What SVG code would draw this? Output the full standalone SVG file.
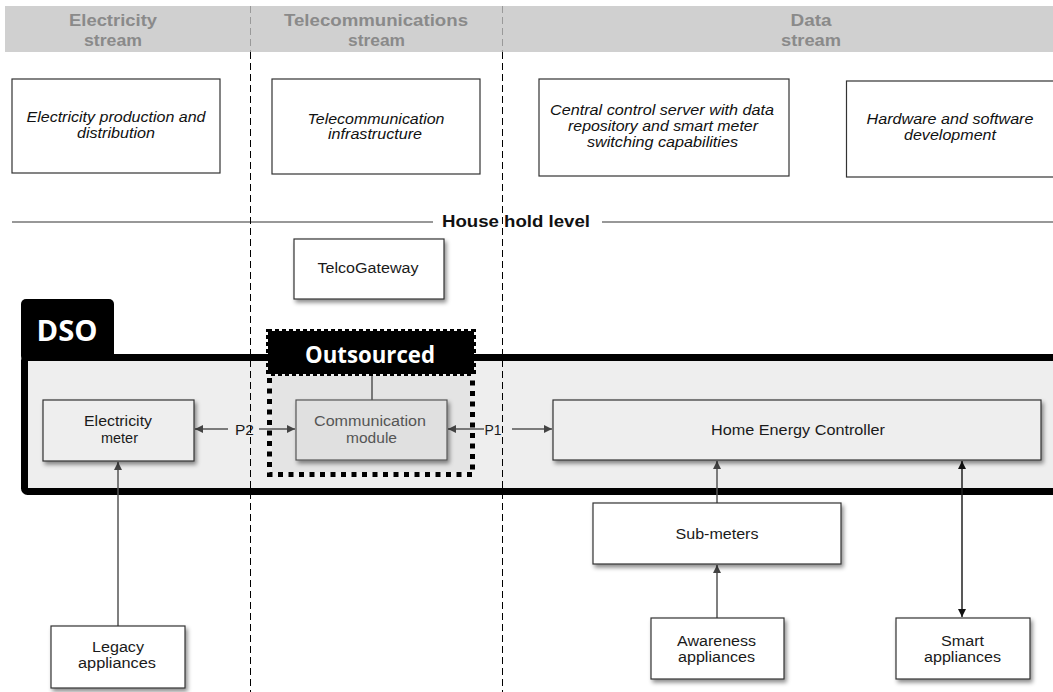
<svg xmlns="http://www.w3.org/2000/svg" width="1053" height="692" viewBox="0 0 1053 692">
  <defs>
    <filter id="shadow" x="-10%" y="-20%" width="125%" height="160%">
      <feDropShadow dx="2" dy="3" stdDeviation="2" flood-color="#000" flood-opacity="0.45"/>
    </filter>
    <marker id="arr" viewBox="0 0 10 10" refX="10" refY="5" markerWidth="8" markerHeight="8" markerUnits="userSpaceOnUse" orient="auto-start-reverse">
      <path d="M0,0 L10,5 L0,10 z" fill="#444"/>
    </marker>
    <marker id="arrDark" viewBox="0 0 10 10" refX="10" refY="5" markerWidth="8" markerHeight="8" markerUnits="userSpaceOnUse" orient="auto-start-reverse">
      <path d="M0,0 L10,5 L0,10 z" fill="#111"/>
    </marker>
  </defs>
  <style>
    .band { fill: #d0d0d0; }
    .head { font-family: "Liberation Sans", Arial, sans-serif; font-weight: bold; font-size: 16px; fill: #8a8a8a; text-anchor: middle; }
    .lane { stroke: #000; stroke-width: 1; stroke-dasharray: 7 4; fill: none; }
    .lane-light { stroke: #999; stroke-width: 1; stroke-dasharray: 7 4; fill: none; }
    .top { fill: #fff; stroke: #333; stroke-width: 1.2; }
    .ital { font-family: "Liberation Sans", Arial, sans-serif; font-style: italic; font-size: 14px; fill: #111; text-anchor: middle; }
    .node { fill: #fff; stroke: #333; stroke-width: 1.2; filter: url(#shadow); }
    .inner { fill: #eeeeee; stroke: #333; stroke-width: 1.2; filter: url(#shadow); }
    .comm { fill: #e0e0e0; stroke: #555; stroke-width: 1.2; filter: url(#shadow); }
    .lbl { font-family: "Liberation Sans", Arial, sans-serif; font-size: 14px; fill: #1a1a1a; text-anchor: middle; }
    .lbl-grey { font-family: "Liberation Sans", Arial, sans-serif; font-size: 14px; fill: #555; text-anchor: middle; }
    .level { font-family: "Liberation Sans", Arial, sans-serif; font-weight: bold; font-size: 16px; fill: #111; text-anchor: middle; }
    .tag { font-family: "Open Sans", "DejaVu Sans", sans-serif; font-weight: bold; fill: #fff; text-anchor: middle; }
    .wire { stroke: #555; stroke-width: 1.5; fill: none; }
    .wire-dark { stroke: #222; stroke-width: 1.5; fill: none; }
  </style>

  <rect width="1053" height="692" fill="#fff"/>

  <!-- stream header band -->
  <g id="stream-header">
    <rect class="band" x="5" y="6" width="1048" height="46"/>
    <text class="head" x="113" y="25.5" textLength="88" lengthAdjust="spacingAndGlyphs">Electricity</text>
    <text class="head" x="113" y="45.5" textLength="58" lengthAdjust="spacingAndGlyphs">stream</text>
    <text class="head" x="376" y="25.5" textLength="184" lengthAdjust="spacingAndGlyphs">Telecommunications</text>
    <text class="head" x="376.5" y="45.5" textLength="57" lengthAdjust="spacingAndGlyphs">stream</text>
    <text class="head" x="811" y="25.5" textLength="41" lengthAdjust="spacingAndGlyphs">Data</text>
    <text class="head" x="811" y="45.5" textLength="60" lengthAdjust="spacingAndGlyphs">stream</text>
  </g>

  <!-- household divider -->
  <g id="household-level">
    <line x1="12" y1="222" x2="433" y2="222" stroke="#333" stroke-width="1.2"/>
    <line x1="602" y1="222" x2="1053" y2="222" stroke="#333" stroke-width="1.2"/>
    <text class="level" x="516" y="227" textLength="148" lengthAdjust="spacingAndGlyphs">House hold level</text>
  </g>

  <!-- DSO domain frame -->
  <g id="dso">
    <rect x="21" y="299" width="93" height="62" rx="5" fill="#000"/>
    <rect x="24.5" y="357.5" width="1045" height="134" rx="3" fill="#eeeeee"/>
    <text class="tag" x="67" y="341" font-size="29" textLength="61" lengthAdjust="spacingAndGlyphs">DSO</text>
  </g>

  <!-- stream separators -->
  <g id="lanes">
    <line class="lane" x1="250.5" y1="52" x2="250.5" y2="692"/>
    <line class="lane" x1="502.5" y1="52" x2="502.5" y2="692"/>
    <line class="lane-light" x1="250.5" y1="6" x2="250.5" y2="52"/>
    <line class="lane-light" x1="502.5" y1="6" x2="502.5" y2="52"/>
  </g>

  <rect x="24.5" y="357.5" width="1045" height="134" rx="3" fill="none" stroke="#000" stroke-width="7"/>

  <!-- outsourced area -->
  <g id="outsourced">
    <rect x="272" y="376" width="198" height="96" fill="#e4e4e4"/>
    <path d="M269.5,378 V474.5 H472.5 V378" fill="none" stroke="#000" stroke-width="5" stroke-dasharray="5 5.5"/>
    <rect x="268" y="331" width="206" height="43" fill="#000" stroke="#000" stroke-width="4" stroke-dasharray="4 3"/>
    <text class="tag" x="370" y="363" font-size="23" textLength="130" lengthAdjust="spacingAndGlyphs">Outsourced</text>
  </g>

  <!-- upstream boxes -->
  <g id="electricity-production">
    <rect class="top" x="12" y="79" width="208" height="94"/>
    <text class="ital" x="116" y="122" textLength="179" lengthAdjust="spacingAndGlyphs">Electricity production and</text>
    <text class="ital" x="116" y="138" textLength="78" lengthAdjust="spacingAndGlyphs">distribution</text>
  </g>
  <g id="telecom-infrastructure">
    <rect class="top" x="272" y="79" width="208" height="95"/>
    <text class="ital" x="376" y="124" textLength="137" lengthAdjust="spacingAndGlyphs">Telecommunication</text>
    <text class="ital" x="375" y="139" textLength="94" lengthAdjust="spacingAndGlyphs">infrastructure</text>
  </g>
  <g id="central-server">
    <rect class="top" x="539" y="79" width="250" height="97"/>
    <text class="ital" x="662" y="115" textLength="224" lengthAdjust="spacingAndGlyphs">Central control server with data</text>
    <text class="ital" x="663" y="131" textLength="190" lengthAdjust="spacingAndGlyphs">repository and smart meter</text>
    <text class="ital" x="662.5" y="147" textLength="151" lengthAdjust="spacingAndGlyphs">switching capabilities</text>
  </g>
  <g id="hw-sw-development">
    <rect class="top" x="846.5" y="81" width="220" height="96"/>
    <text class="ital" x="950" y="124" textLength="167" lengthAdjust="spacingAndGlyphs">Hardware and software</text>
    <text class="ital" x="950" y="140" textLength="92" lengthAdjust="spacingAndGlyphs">development</text>
  </g>

  <!-- connectors -->
  <g id="connectors">
    <line class="wire" x1="372" y1="376" x2="372" y2="400"/>
    <line class="wire" x1="118" y1="626" x2="118" y2="462" marker-end="url(#arr)"/>
    <line class="wire" x1="228" y1="429" x2="195" y2="429" marker-end="url(#arr)"/>
    <line class="wire" x1="259" y1="429" x2="295" y2="429" marker-end="url(#arr)"/>
    <line class="wire" x1="484" y1="429" x2="448" y2="429" marker-end="url(#arr)"/>
    <line class="wire" x1="512" y1="429" x2="552" y2="429" marker-end="url(#arr)"/>
    <line class="wire" x1="717" y1="503" x2="717" y2="461" marker-end="url(#arr)"/>
    <line class="wire" x1="717" y1="618" x2="717" y2="565" marker-end="url(#arr)"/>
    <line class="wire-dark" x1="962" y1="461" x2="962" y2="617" marker-start="url(#arrDark)" marker-end="url(#arrDark)"/>
    <text class="lbl" x="244.5" y="435" textLength="19" lengthAdjust="spacingAndGlyphs">P2</text>
    <text class="lbl" x="493" y="435" textLength="17" lengthAdjust="spacingAndGlyphs">P1</text>
  </g>

  <!-- household nodes -->
  <g id="telco-gateway">
    <rect class="node" x="294" y="239" width="150" height="60"/>
    <text class="lbl" x="368" y="273" textLength="101" lengthAdjust="spacingAndGlyphs">TelcoGateway</text>
  </g>
  <g id="electricity-meter">
    <rect class="inner" x="43" y="400" width="151" height="61"/>
    <text class="lbl" x="118" y="426" textLength="68" lengthAdjust="spacingAndGlyphs">Electricity</text>
    <text class="lbl" x="119.5" y="443" textLength="37" lengthAdjust="spacingAndGlyphs">meter</text>
  </g>
  <g id="communication-module">
    <rect class="comm" x="296" y="400" width="151" height="60"/>
    <text class="lbl-grey" x="370" y="426" textLength="112" lengthAdjust="spacingAndGlyphs">Communication</text>
    <text class="lbl-grey" x="371.5" y="443" textLength="51" lengthAdjust="spacingAndGlyphs">module</text>
  </g>
  <g id="home-energy-controller">
    <rect class="inner" x="553" y="400" width="488" height="60"/>
    <text class="lbl" x="798" y="435" textLength="174" lengthAdjust="spacingAndGlyphs">Home Energy Controller</text>
  </g>
  <g id="sub-meters">
    <rect class="node" x="593" y="503" width="248" height="61"/>
    <text class="lbl" x="717" y="539" textLength="83" lengthAdjust="spacingAndGlyphs">Sub-meters</text>
  </g>
  <g id="awareness-appliances">
    <rect class="node" x="651" y="618" width="133" height="61"/>
    <text class="lbl" x="716.5" y="646" textLength="79" lengthAdjust="spacingAndGlyphs">Awareness</text>
    <text class="lbl" x="716.5" y="662" textLength="77" lengthAdjust="spacingAndGlyphs">appliances</text>
  </g>
  <g id="smart-appliances">
    <rect class="node" x="896" y="618" width="134" height="61"/>
    <text class="lbl" x="962.5" y="646" textLength="43" lengthAdjust="spacingAndGlyphs">Smart</text>
    <text class="lbl" x="962.5" y="662" textLength="77" lengthAdjust="spacingAndGlyphs">appliances</text>
  </g>
  <g id="legacy-appliances">
    <rect class="node" x="51" y="626" width="134" height="62"/>
    <text class="lbl" x="118" y="652" textLength="52" lengthAdjust="spacingAndGlyphs">Legacy</text>
    <text class="lbl" x="117" y="668" textLength="78" lengthAdjust="spacingAndGlyphs">appliances</text>
  </g>
</svg>
